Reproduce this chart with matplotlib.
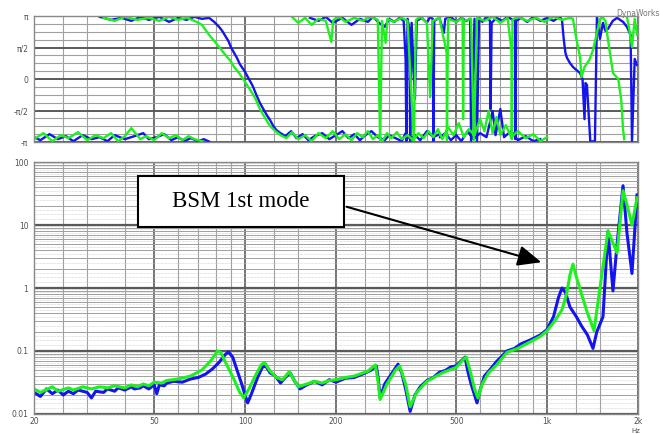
import numpy as np
import matplotlib
matplotlib.use("Agg")
import matplotlib.pyplot as plt
from matplotlib.patches import Rectangle, FancyArrowPatch

nan = np.nan

# magnitude, blue trace
mag_blue_f = [20, 21, 22, 23, 24, 25, 26, 27, 28, 30, 31, 32, 34, 35, 37, 38, 40, 42, 43, 45, 46, 48, 50, 51, 52, 54,
              55, 58, 62, 66, 70, 74, 78, 82, 86, 88, 91, 94, 97, 100, 102, 105, 110, 114, 117, 121, 126, 131, 136, 141,
              146, 152, 160, 170, 180, 190, 200, 215, 230, 245, 262, 272, 276, 280, 290, 305, 321, 330, 340, 352, 365,
              380, 400, 420, 440, 460, 480, 500, 520, 535, 545, 560, 575, 586, 600, 620, 650, 680, 700, 736, 780, 820,
              880, 950, 1000, 1050, 1090, 1120, 1150, 1190, 1250, 1300, 1360, 1419, 1460, 1531, 1591, 1652, 1705, 1784,
              1838, 1910, 1985]
mag_blue = [0.022, 0.019, 0.025, 0.021, 0.024, 0.02, 0.023, 0.021, 0.024, 0.022, 0.018, 0.023, 0.022, 0.025, 0.023,
            0.026, 0.024, 0.027, 0.025, 0.026, 0.028, 0.025, 0.029, 0.021, 0.029, 0.028, 0.031, 0.033, 0.032, 0.036,
            0.038, 0.043, 0.052, 0.066, 0.088, 0.097, 0.08, 0.05, 0.032, 0.02, 0.015, 0.021, 0.038, 0.055, 0.058, 0.045,
            0.04, 0.031, 0.038, 0.045, 0.033, 0.025, 0.029, 0.033, 0.029, 0.035, 0.032, 0.037, 0.038, 0.043, 0.05,
            0.058, 0.036, 0.018, 0.03, 0.043, 0.062, 0.045, 0.025, 0.011, 0.02, 0.027, 0.034, 0.038, 0.046, 0.049,
            0.056, 0.058, 0.07, 0.08, 0.05, 0.03, 0.02, 0.015, 0.024, 0.04, 0.052, 0.068, 0.078, 0.1, 0.11, 0.13, 0.15,
            0.18, 0.22, 0.35, 0.7, 1.0, 0.85, 0.5, 0.35, 0.25, 0.18, 0.11, 0.2, 0.35, 8, 0.9, 5, 42, 7.5, 1.7, 30]

# magnitude, green trace
mag_green_f = [20, 21, 23, 24, 26, 27, 29, 31, 33, 35, 37, 40, 42, 44, 46, 48, 50, 53, 55, 60, 66, 72, 77, 81, 83, 87,
               92, 96, 99, 103, 108, 113, 116, 121, 127, 133, 140, 145, 150, 160, 170, 180, 190, 200, 215, 230, 255,
               270, 275, 280, 295, 315, 325, 340, 352, 370, 400, 450, 500, 530, 540, 555, 575, 590, 610, 640, 680, 736,
               800, 880, 950, 1000, 1060, 1120, 1160, 1190, 1218, 1250, 1300, 1360, 1430, 1496, 1591, 1705, 1784, 1838,
               1910, 1985]
mag_green = [0.025, 0.022, 0.027, 0.023, 0.026, 0.024, 0.027, 0.025, 0.027, 0.026, 0.028, 0.026, 0.029, 0.027, 0.03,
             0.028, 0.032, 0.031, 0.034, 0.036, 0.04, 0.05, 0.07, 0.1, 0.095, 0.06, 0.035, 0.022, 0.018, 0.025, 0.04,
             0.06, 0.066, 0.048, 0.038, 0.035, 0.047, 0.035, 0.027, 0.03, 0.033, 0.031, 0.034, 0.035, 0.038, 0.04, 0.048,
             0.06, 0.035, 0.017, 0.03, 0.05, 0.058, 0.03, 0.013, 0.022, 0.033, 0.045, 0.055, 0.075, 0.08, 0.05, 0.025,
             0.018, 0.03, 0.045, 0.06, 0.095, 0.11, 0.14, 0.17, 0.21, 0.3, 0.45, 0.8, 1.6, 2.4, 1.5, 0.8, 0.4, 0.21, 1.0,
             8, 3.6, 35, 21, 10, 27]

# phase, blue trace (nan = break)
ph_blue_f = [20, 21, 22.5, 24, 25.5, 27, 29, 31, 33, 35, 37, 40, 43, 46, 48, 51, 54, 57, 60, 63, 66, 70, 73, 76, nan,
             33, 36, 39, 42, 45, 48, 52, 56, 60, 64, 68, 72, 76, 79, 82, 84, 86, 88, 90, 92, 94, 96, 98, 100, 103, 106,
             109, 112, 115, 118, 121, 124, 127, 131, 136, 142, 148, 155, 162, 170, 180, 190, 200, 210, 220, 230, 240,
             250, 262, 275, 290, 300, 315, 330, 340, 352, 365, 380, 400, 420, 440, nan,
             164, 175, 185, 195, 210, 225, 240, 255, 265, 280, 290, 300, 312, 325, 335, 340, 342, 345, 350, 352, 356,
             365, 370, 385, 400, 410, 418, 420, 423, 440, 455, 460, 480, 500, 520, 540, 556, 560, 575, 586, 595, 610,
             630, 647, 650, 655, 680, 710, 740, 770, 783, 785, 790, 820, 860, 900, 950, 1000, 1050, 1100, 1120, 1135,
             1150, 1164, 1190, 1218, 1250, 1285, 1310, 1330, 1340, 1355, 1390, 1440, 1462, 1496, 1531, 1560, 1590,
             1650, 1705, 1784, 1838, 1890, 1910, 1950, 1985, nan,
             442, 460, 480, 500, 520, 545, 570, 600, 630, 660, 675, 700, 720, 760, 800, 850, 900, 950]
ph_blue = [-2.9, -3.05, -2.75, -3.0, -2.85, -3.1, -2.8, -3.0, -2.9, -3.1, -2.8, -3.0, -2.85, -2.7, -3.0, -2.9, -2.75,
           -3.05, -2.9, -3.1, -2.95, -3.1, -3.0, -3.12, nan,
           3.1, 2.95, 3.05, 2.9, 3.1, 2.95, 3.1, 2.85, 3.05, 2.95, 3.1, 3.0, 3.05, 2.85, 2.6, 2.4, 2.15, 1.9, 1.55,
           1.3, 1.05, 0.75, 0.55, 0.35, 0.0, -0.35, -0.8, -1.2, -1.5, -1.8, -2.05, -2.35, -2.55, -2.7, -2.85, -2.6,
           -2.95, -2.75, -3.05, -2.85, -2.7, -3.0, -2.8, -2.6, -2.95, -2.75, -3.05, -2.8, -2.6, -2.9, -3.05, -2.8,
           -2.95, -3.1, -2.7, -3.0, -2.8, -3.05, -2.6, -2.9, -2.75, nan,
           3.05, 2.9, 3.1, 2.8, 3.05, 2.7, 3.0, 2.85, 3.1, 2.75, 2.6, 3.0, 2.85, 3.05, 2.9, 1.0, -3.1, 3.0, 2.5,
           -3.12, 2.8, -1.0, 2.9, 3.05, 2.8, 3.1, 3.0, -3.1, 2.9, 3.05, 2.3, 3.0, 3.1, 2.85, 3.05, 2.9, 3.0, -3.1,
           3.0, -3.1, 3.05, 2.85, 3.1, 2.9, -1.5, 2.8, 3.05, 2.9, 3.1, 2.95, 3.0, -3.0, 2.9, 3.05, 2.85, 3.1, 2.9,
           3.05, 2.9, 3.1, 2.95, 2.0, 1.3, 1.05, 0.8, 0.6, 0.45, 0.3, 0.0, -2.0, -0.2, -0.3, -3.12, -3.1, 3.1, 2.0,
           2.8, 2.4, 2.5, 2.9, 3.05, 2.85, 2.6, 2.2, -3.1, 1.0, 0.7, nan,
           -2.9, -2.7, -3.05, -2.8, -3.1, -2.6, -3.0, -2.7, -2.9, -1.6, -2.8, -1.5, -2.9, -2.6, -3.05, -2.85, -3.1,
           -3.0]

# phase, green trace (nan = break)
ph_green_f = [20, 21.5, 23, 24.5, 26, 28, 30, 32, 34, 36, 38, 40, 42, 45, 47, 50, 53, 56, 59, 62, 65, 68, 72, nan,
              34, 37, 40, 44, 48, 52, 56, 60, 64, 68, 72, 74, 76, 78, 80, 83, 86, 89, 92, 96, 100, 104, 108, 112, 116,
              121, 126, 131, 137, 143, 150, 158, 166, 175, 185, 195, 205, 215, 225, 235, 245, 255, 265, 275, 285, 295,
              305, 318, 330, 345, 360, 375, 390, 405, 420, 435, 450, 470, 490, 510, 530, 550, 575, 600, 620, 640, 660,
              680, 700, 730, 760, 800, 850, 900, 950, 1000, nan,
              143, 150, 158, 166, 175, 185, 193, 196, 205, 215, 230, 245, 260, 275, 280, 284, 292, 296, 310, 330, 345,
              362, 368, 380, 400, 410, 418, 440, 465, 466, 470, 500, 525, 527, 530, 560, 572, 586, 620, 660, 700, 740,
              762, 764, 768, 800, 860, 920, 980, 1050, 1120, 1190, 1218, 1250, 1285, 1300, 1330, 1380, 1419, 1462,
              1496, 1531, 1560, 1591, 1652, 1720, 1760, 1784, 1800, nan,
              1838, 1870, 1910, 1950, 1985]
ph_green = [-3.0, -2.7, -3.1, -2.8, -2.95, -2.65, -3.05, -2.8, -2.95, -2.7, -3.1, -2.85, -2.45, -3.0, -2.85, -3.05,
            -2.7, -2.95, -2.8, -3.05, -2.85, -3.0, -3.1, nan,
            3.05, 2.9, 3.1, 2.95, 3.05, 2.9, 3.1, 2.95, 3.05, 2.9, 2.7, 2.45, 2.2, 2.0, 1.8, 1.5, 1.2, 0.95, 0.6, 0.25,
            -0.15, -0.55, -0.95, -1.5, -1.9, -2.35, -2.6, -2.8, -2.95, -2.65, -3.0, -2.8, -3.1, -2.7, -2.95, -2.6,
            -3.0, -2.75, -3.05, -2.7, -2.9, -2.6, -3.0, -2.8, -3.1, -2.7, -2.95, -2.65, -3.0, -2.8, -3.05, -2.7,
            -2.95, -2.6, -2.9, -2.5, -3.0, -2.4, -2.8, -2.2, -2.9, -2.5, -2.8, -2.0, -2.6, -1.6, -2.7, -1.9, -2.8,
            -2.3, -2.9, -2.6, -2.95, -2.75, -3.1, -2.9, nan,
            3.1, 2.8, 3.05, 2.7, 3.0, 2.9, 1.85, 2.95, 3.1, 2.85, 3.05, 2.9, 3.1, 2.95, -3.1, 2.9, 1.8, 3.0, 2.85,
            3.05, 2.9, -3.05, 2.95, 3.1, 2.8, -0.9, 2.9, 3.05, 1.3, -3.05, 3.0, 2.85, 3.05, -2.0, 2.9, 3.0, -3.1,
            3.05, 2.9, 3.1, 2.8, 3.05, 1.4, -3.0, 2.95, 3.1, 2.9, 3.05, 2.85, 3.1, 2.95, 3.05, 3.0, 2.0, 1.1, 0.1,
            0.6, 0.95, 1.45, 2.3, 3.0, 3.05, 2.9, 1.95, 0.3, 0.0, -1.05, -2.5, -3.0, nan,
            3.1, 2.5, 1.6, 3.0, 2.2]

xticks = [20, 50, 100, 200, 500, 1000, 2000]
xticklabels = ["20", "50", "100", "200", "500", "1k", "2k"]
xminor = [25, 30, 40, 60, 70, 80, 90, 125, 150, 250, 300, 400, 600, 700, 800, 900, 1250, 1500]
yticks_mag = [0.01, 0.1, 1, 10, 100]
yticklabels_mag = ["0.01", "0.1", "1", "10", "100"]
yticks_ph = [-np.pi, -np.pi / 2, 0, np.pi / 2, np.pi]
yticklabels_ph = ["-π", "-π/2", "0", "π/2", "π"]

blue = "#1414f0"
green = "#1ef01e"
major_c = "#5a5a5a"
minor_c = "#a0a0a0"
fine_c = "#c8c8c8"
lbl_c = "#505050"

fig = plt.figure(figsize=(6.6, 4.34), dpi=100)
ax1 = fig.add_axes([0.0515, 0.6728, 0.9152, 0.2903])
ax2 = fig.add_axes([0.0515, 0.0461, 0.9152, 0.5806])


def xgrid(ax):
    for f in xticks:
        ax.axvline(f, color=major_c, lw=1.2, zorder=1)
    for f in xminor:
        ax.axvline(f, color=minor_c, lw=0.8, zorder=1)


# phase panel
xgrid(ax1)
for k in range(-8, 9):
    v = k * np.pi / 8
    if k % 4 == 0:
        ax1.axhline(v, color=major_c, lw=1.4, zorder=1)
    else:
        ax1.axhline(v, color=minor_c, lw=0.8, zorder=1)
ax1.plot(ph_blue_f, ph_blue, color=blue, lw=1.7, zorder=3)
ax1.plot(ph_green_f, ph_green, color=green, lw=1.7, zorder=4)
ax1.set_xscale("log")
ax1.set_xlim(20, 2000)
ax1.set_ylim(-np.pi, np.pi)
ax1.set_yticks(yticks_ph)
ax1.set_yticklabels(yticklabels_ph)
ax1.set_xticks(xticks)
ax1.set_xticklabels([])
ax1.xaxis.set_minor_locator(matplotlib.ticker.NullLocator())

# magnitude panel
xgrid(ax2)
for dec in [0.01, 0.1, 1, 10]:
    for s in range(2, 10):
        ax2.axhline(dec * s, color=minor_c, lw=0.7, zorder=1)
    for s in [1.25, 1.5, 1.75, 2.5, 3.5, 4.5, 5.5, 6.5, 7.5, 8.5, 9.5]:
        ax2.axhline(dec * s, color=fine_c, lw=0.5, ls=(0, (1, 1)), zorder=1)
for v in yticks_mag:
    ax2.axhline(v, color=major_c, lw=1.6, zorder=1)
ax2.plot(mag_blue_f, mag_blue, color=blue, lw=2.2, zorder=3)
ax2.plot(mag_green_f, mag_green, color=green, lw=2.2, zorder=4)
ax2.set_xscale("log")
ax2.set_yscale("log")
ax2.set_xlim(20, 2000)
ax2.set_ylim(0.01, 100)
ax2.set_xticks(xticks)
ax2.set_xticklabels(xticklabels)
ax2.set_yticks(yticks_mag)
ax2.set_yticklabels(yticklabels_mag)
ax2.xaxis.set_minor_locator(matplotlib.ticker.NullLocator())
ax2.yaxis.set_minor_locator(matplotlib.ticker.NullLocator())

for ax in (ax1, ax2):
    ax.tick_params(length=0, labelsize=5.5, labelcolor=lbl_c, pad=4)
    for sp in ax.spines.values():
        sp.set_color("#888888")
        sp.set_linewidth(1.0)
        sp.set_zorder(5)
ax2.tick_params(axis="x", pad=2)

fig.text(0.9636, 0.0, "Hz", fontsize=5, color=lbl_c, ha="center", va="bottom")
fig.text(0.999, 0.968, "DynaWorks", fontsize=5.5, color="#777777", ha="right", va="center")

# annotation box and arrow
fig.add_artist(Rectangle((0.2091, 0.4770), 0.3121, 0.1175, transform=fig.transFigure,
                         facecolor="white", edgecolor="black", lw=1.5, zorder=10))
fig.text(0.3652, 0.5357, "BSM 1st mode", fontsize=16.5, family="Liberation Serif",
         ha="center", va="center", zorder=11)
fig.add_artist(FancyArrowPatch((0.5212, 0.5253), (0.8242, 0.3940), transform=fig.transFigure,
                               arrowstyle="-|>,head_length=0.8,head_width=0.35", mutation_scale=18,
                               color="black", lw=1.5, zorder=11))

fig.savefig("out.png", dpi=100)
